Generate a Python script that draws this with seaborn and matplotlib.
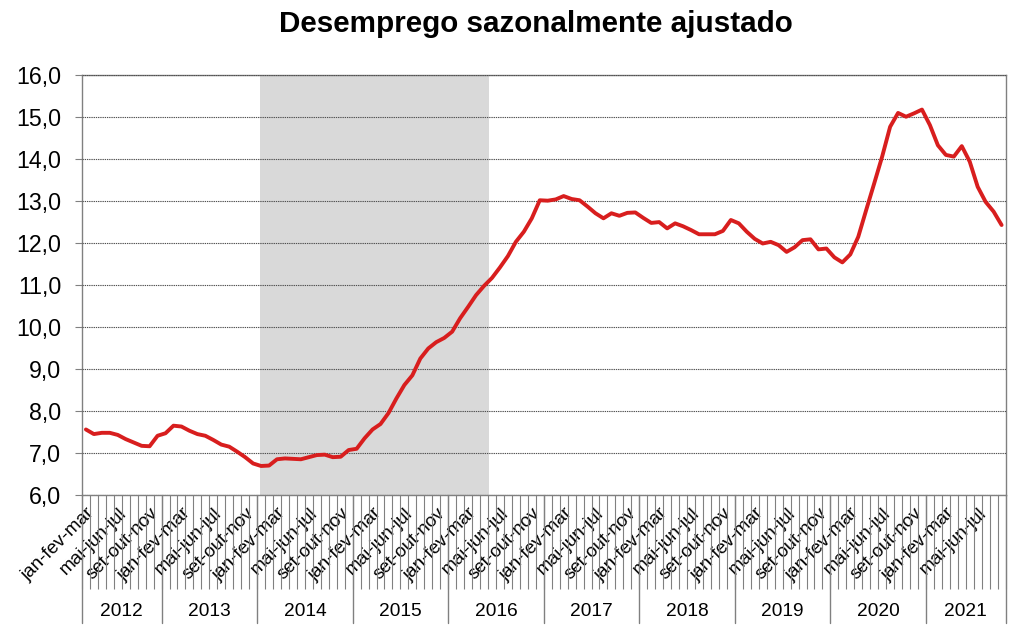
import matplotlib
matplotlib.use("Agg")
import matplotlib.pyplot as plt
import seaborn as sns
import pandas as pd
import numpy as np

# ---- data ----
month_names = ["jan", "fev", "mar", "abr", "mai", "jun", "jul", "ago", "set", "out", "nov", "dez"]
first_year = 2012
unemployment = [
    7.56, 7.45, 7.48, 7.48, 7.43, 7.33, 7.25, 7.17, 7.16, 7.41,
    7.47, 7.65, 7.63, 7.53, 7.45, 7.41, 7.31, 7.20, 7.15, 7.03,
    6.90, 6.75, 6.69, 6.70, 6.85, 6.87, 6.86, 6.85, 6.90, 6.95,
    6.96, 6.90, 6.91, 7.07, 7.10, 7.35, 7.56, 7.69, 7.95, 8.30,
    8.62, 8.85, 9.25, 9.49, 9.64, 9.74, 9.89, 10.21, 10.48, 10.76,
    10.98, 11.17, 11.42, 11.69, 12.03, 12.27, 12.59, 13.02, 13.01, 13.04,
    13.12, 13.05, 13.02, 12.87, 12.71, 12.59, 12.71, 12.65, 12.72, 12.73,
    12.60, 12.48, 12.50, 12.35, 12.47, 12.40, 12.31, 12.21, 12.21, 12.21,
    12.29, 12.55, 12.47, 12.27, 12.10, 11.99, 12.03, 11.95, 11.79, 11.90,
    12.07, 12.09, 11.85, 11.87, 11.66, 11.54, 11.73, 12.15, 12.79, 13.42,
    14.06, 14.77, 15.10, 15.01, 15.09, 15.18, 14.81, 14.33, 14.10, 14.06,
    14.31, 13.94, 13.34, 12.98, 12.75, 12.43,
]
shade_span = [21.9, 50.6]   # shaded period (category units)
y_ticks = [6, 7, 8, 9, 10, 11, 12, 13, 14, 15, 16]

n = len(unemployment)
idx = np.arange(n)
labels = ["-".join(month_names[(i + k) % 12] for k in range(3)) for i in idx]
years = [first_year + (i + 2) // 12 for i in idx]
df = pd.DataFrame({"i": idx, "v": unemployment, "label": labels, "year": years})

# ---- style ----
sns.set_theme(style="white")
plt.rcParams["font.family"] = ["Liberation Sans", "DejaVu Sans"]

fig = plt.figure(figsize=(10.24, 6.37), dpi=100)
ax = fig.add_axes([0.080, 0.223, 0.902, 0.659])

ax.axvspan(shade_span[0], shade_span[1], color="#d9d9d9", lw=0, zorder=0)
sns.lineplot(data=df, x="i", y="v", ax=ax, color="#d81e1e", linewidth=2.8, zorder=3)

ax.set_xlim(-0.5, n - 0.5)
ax.set_ylim(y_ticks[0], y_ticks[-1])
ax.set_yticks(y_ticks)
ax.set_yticklabels([f"{t:.1f}".replace(".", ",") for t in y_ticks], fontsize=16.7, color="black")
ax.yaxis.grid(True, linestyle=(0, (1.2, 0.8)), color="#505050", linewidth=0.8)
ax.set_axisbelow(False)
ax.tick_params(axis="y", length=5, width=0.8, color="#808080", pad=10, left=True)

# x ticks: labels every 4 categories at centers; boundary ticks as minor ticks
major = [i for i in idx if i % 4 == 0]
ax.set_xticks(major)
ax.set_xticklabels([labels[i] for i in major], fontsize=13.5, color="black")
ax.set_xticks(np.arange(n + 1) - 0.5, minor=True)
ax.tick_params(axis="x", which="major", length=0, pad=7, bottom=True)
ax.tick_params(axis="x", which="minor", length=68, width=0.8, color="#808080", bottom=True, direction="out")
plt.setp(ax.get_xticklabels(), rotation=45, ha="right", rotation_mode="anchor")
ax.set_xlabel("")
ax.set_ylabel("")

for s in ax.spines.values():
    s.set_color("#808080")
    s.set_linewidth(1.0)

# year group separators and labels
trans = ax.get_xaxis_transform()
year_list = sorted(set(years))
bounds = [df.index[df["year"] == y].min() - 0.5 for y in year_list] + [n - 0.5]
for b in bounds:
    ax.plot([b, b], [0, -0.305], transform=trans, color="#808080", lw=1.0, clip_on=False)
for k, y in enumerate(year_list):
    ax.text((bounds[k] + bounds[k + 1]) / 2, -0.278, str(y), transform=trans,
            ha="center", va="center", fontsize=13.8, color="black")

fig.text(0.523, 0.963, "Desemprego sazonalmente ajustado", ha="center", va="center",
         fontsize=21.3, fontweight="bold", color="black")

fig.savefig("out.png", dpi=100, facecolor="white")
